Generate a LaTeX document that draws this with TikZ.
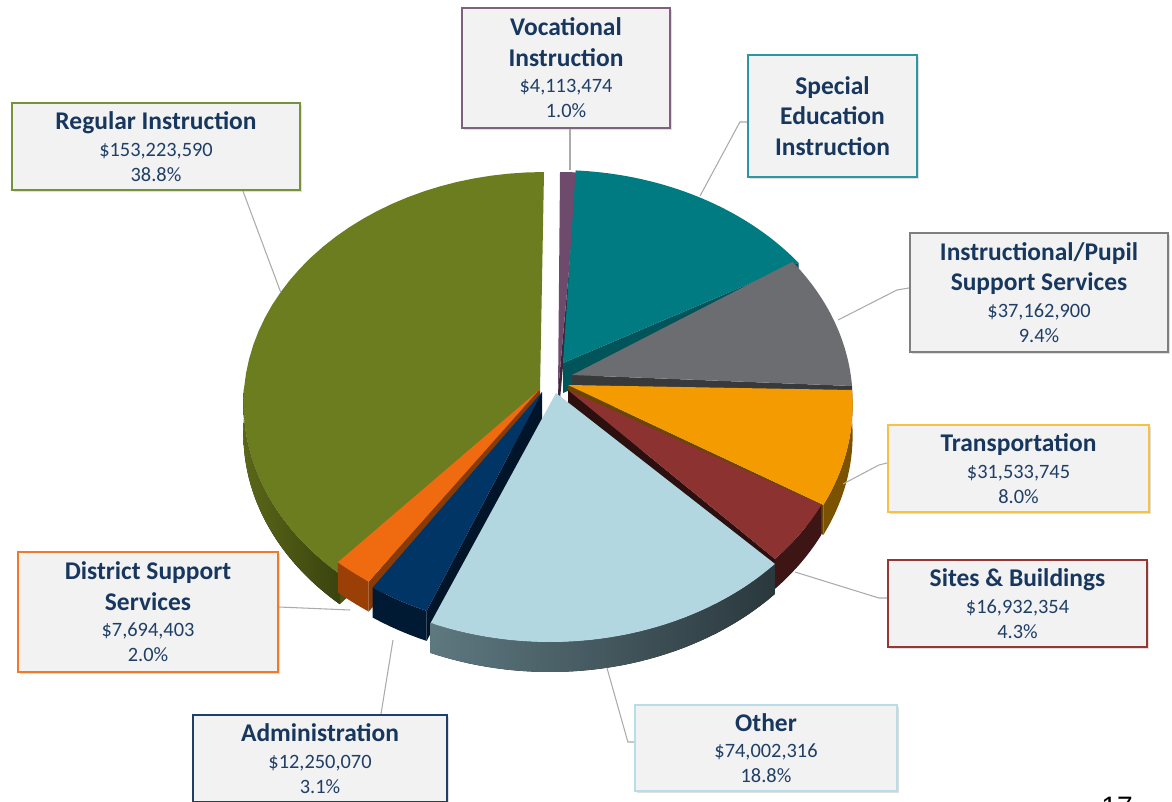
\documentclass[tikz,border=0pt]{standalone}
\usepackage{fontspec}
\setmainfont{Carlito}
\newfontfamily\pagefont{Liberation Sans}
\usetikzlibrary{shadows}

\definecolor{titleblue}{HTML}{17375E}
\definecolor{valueblue}{HTML}{1F3F66}
\definecolor{boxfill}{HTML}{F2F2F3}
\definecolor{leadgray}{HTML}{ABABAB}

\definecolor{regtop}{HTML}{6B7D1E}
\definecolor{regsideA}{HTML}{5A6718}
\definecolor{regsideB}{HTML}{3A430E}
\definecolor{regcut}{HTML}{485214}
\definecolor{voctop}{HTML}{6E4A6C}
\definecolor{voccut}{HTML}{3B2538}
\definecolor{spetop}{HTML}{007B82}
\definecolor{specut}{HTML}{00545A}
\definecolor{instop}{HTML}{6C6D70}
\definecolor{inscut}{HTML}{38393B}
\definecolor{tratop}{HTML}{F39B00}
\definecolor{traside}{HTML}{7A5200}
\definecolor{tracut}{HTML}{6A4700}
\definecolor{sittop}{HTML}{8C3332}
\definecolor{sitside}{HTML}{3D1515}
\definecolor{sitcut}{HTML}{2C0F0F}
\definecolor{othtop}{HTML}{B3D7E1}
\definecolor{othsideA}{HTML}{5E7880}
\definecolor{othsideB}{HTML}{2A383D}
\definecolor{admtop}{HTML}{003565}
\definecolor{admside}{HTML}{001A33}
\definecolor{admcut}{HTML}{00152A}
\definecolor{distop}{HTML}{F06A10}
\definecolor{disside}{HTML}{9A4006}
\definecolor{discut}{HTML}{8A3A05}

\definecolor{regline}{HTML}{76923C}
\definecolor{vocline}{HTML}{80607F}
\definecolor{speline}{HTML}{2E96A0}
\definecolor{insline}{HTML}{7F7F7F}
\definecolor{traline}{HTML}{F6C243}
\definecolor{sitline}{HTML}{953735}
\definecolor{disline}{HTML}{F07A2A}
\definecolor{admline}{HTML}{1F3F6A}
\definecolor{othline}{HTML}{B9DDE8}

\newcommand{\valfont}{\fontsize{11.6}{14.2}\selectfont}
\newcommand{\ttlfont}{\fontsize{14.5}{17.6}\selectfont\bfseries\color{titleblue}}

\begin{document}
\begin{tikzpicture}[x=0.02cm,y=-0.02cm,samples=40,
  declare function={px(\t)=552+300*cos(\t)/(1+0.0647*sin(\t));
                    py(\t)=393-231*sin(\t)/(1+0.0647*sin(\t));},
  callout/.style={draw,line width=1.3pt,fill=boxfill,align=center,
                  text=valueblue,font=\valfont,inner sep=0pt,
                  drop shadow={opacity=0.25,shadow xshift=1.2pt,shadow yshift=-1.2pt}},
  lead/.style={draw=leadgray,line width=0.6pt}]
\path[use as bounding box,fill=white] (0,0) rectangle (1172,801);

\coordinate (vocC) at (558,392);
\begin{scope}[shift={(8,-4)}]
\fill[voccut] (vocC) -- ({px(86.4)},{py(86.4)}) -- ({px(86.4)},{py(86.4)+30}) -- ([yshift=-0.6cm]vocC) -- cycle;
\fill[voctop] (vocC) -- plot[domain=86.4:90] ({px(\x)},{py(\x)}) -- cycle;
\end{scope}

\coordinate (speC) at (563,363);
\begin{scope}[shift={(6,-6)}]
\fill[specut] (speC) -- ({px(33.84)},{py(33.84)}) -- ({px(33.84)},{py(33.84)+30}) -- ([yshift=-0.6cm]speC) -- cycle;
\fill[spetop] (speC) -- plot[domain=33.84:86.4] ({px(\x)},{py(\x)}) -- cycle;
\end{scope}

\coordinate (insC) at (572,375);
\begin{scope}[shift={(0,-7)}]
\fill[inscut] (insC) -- ({px(0)},{py(0)}) -- ({px(0)},{py(0)+30}) -- ([yshift=-0.6cm]insC) -- cycle;
\fill[instop] (insC) -- plot[domain=0:33.84] ({px(\x)},{py(\x)}) -- cycle;
\end{scope}

\coordinate (regC) at (540,390);
\begin{scope}[shift={(-8,-4)}]
\fill[left color=regsideA,right color=regsideB] plot[domain=180:229.68] ({px(\x)},{py(\x)}) -- plot[domain=229.68:180] ({px(\x)},{py(\x)+30}) -- cycle;
\fill[regcut] (regC) -- ({px(229.68)},{py(229.68)}) -- ({px(229.68)},{py(229.68)+30}) -- ([yshift=-0.6cm]regC) -- cycle;
\fill[regtop] (regC) -- plot[domain=90:229.68] ({px(\x)},{py(\x)}) -- cycle;
\end{scope}

\coordinate (traC) at (568,385);
\begin{scope}[shift={(0,-3)}]
\fill[traside] plot[domain=-28.8:0] ({px(\x)},{py(\x)}) -- plot[domain=0:-28.8] ({px(\x)},{py(\x)+30}) -- cycle;
\fill[tracut] (traC) -- ({px(-28.8)},{py(-28.8)}) -- ({px(-28.8)},{py(-28.8)+30}) -- ([yshift=-0.6cm]traC) -- cycle;
\fill[tratop] (traC) -- plot[domain=-28.8:0] ({px(\x)},{py(\x)}) -- cycle;
\end{scope}

\coordinate (sitC) at (568,390);
\begin{scope}[shift={(-2,-3)}]
\fill[sitside] plot[domain=-44.28:-28.8] ({px(\x)},{py(\x)}) -- plot[domain=-28.8:-44.28] ({px(\x)},{py(\x)+30}) -- cycle;
\fill[sitcut] (sitC) -- ({px(-44.28)},{py(-44.28)}) -- ({px(-44.28)},{py(-44.28)+30}) -- ([yshift=-0.6cm]sitC) -- cycle;
\fill[sittop] (sitC) -- plot[domain=-44.28:-28.8] ({px(\x)},{py(\x)}) -- cycle;
\end{scope}

\coordinate (disC) at (539,390);
\begin{scope}[shift={(-10,-16)}]
\fill[disside] plot[domain=-130.32:-123.12] ({px(\x)},{py(\x)}) -- plot[domain=-123.12:-130.32] ({px(\x)},{py(\x)+30}) -- cycle;
\fill[discut] (disC) -- ({px(-123.12)},{py(-123.12)}) -- ({px(-123.12)},{py(-123.12)+30}) -- ([yshift=-0.6cm]disC) -- cycle;
\fill[distop] (disC) -- plot[domain=-130.32:-123.12] ({px(\x)},{py(\x)}) -- cycle;
\end{scope}

\coordinate (admC) at (542,392);
\begin{scope}[shift={(-6,-10)}]
\fill[admside] plot[domain=-123.12:-111.96] ({px(\x)},{py(\x)}) -- plot[domain=-111.96:-123.12] ({px(\x)},{py(\x)+30}) -- cycle;
\fill[admcut] (admC) -- ({px(-111.96)},{py(-111.96)}) -- ({px(-111.96)},{py(-111.96)+30}) -- ([yshift=-0.6cm]admC) -- cycle;
\fill[admtop] (admC) -- plot[domain=-123.12:-111.96] ({px(\x)},{py(\x)}) -- cycle;
\end{scope}

\coordinate (othC) at (556,393);
\begin{scope}[shift={(-2,2)}]
\fill[left color=othsideA,right color=othsideB] plot[domain=-111.96:-44.28] ({px(\x)},{py(\x)}) -- plot[domain=-44.28:-111.96] ({px(\x)},{py(\x)+30}) -- cycle;
\fill[othtop] (othC) -- plot[domain=-111.96:-44.28] ({px(\x)},{py(\x)}) -- cycle;
\end{scope}

\node[callout,draw=regline,minimum width=5.76cm,minimum height=1.74cm] (regBox) at (156,146.5)
  {{\ttlfont Regular Instruction}\\[1pt]\$153,223,590\\38.8\%};
\node[callout,draw=vocline,minimum width=4.16cm,minimum height=2.4cm] (vocBox) at (566,68)
  {{\ttlfont Vocational}\\[3pt]{\ttlfont Instruction}\\[1pt]\$4,113,474\\1.0\%};
\node[callout,draw=speline,minimum width=3.38cm,minimum height=2.44cm] (speBox) at (832.5,116)
  {{\ttlfont Special}\\[3pt]{\ttlfont Education}\\[3pt]{\ttlfont Instruction}};
\node[callout,draw=insline,minimum width=5.16cm,minimum height=2.38cm] (insBox) at (1039,292.5)
  {{\ttlfont Instructional/Pupil}\\[3pt]{\ttlfont Support Services}\\[1pt]\$37,162,900\\9.4\%};
\node[callout,draw=traline,minimum width=5.22cm,minimum height=1.74cm] (traBox) at (1018.5,468.5)
  {{\ttlfont Transportation}\\[1pt]\$31,533,745\\8.0\%};
\node[callout,draw=sitline,minimum width=5.18cm,minimum height=1.74cm] (sitBox) at (1017.5,603.5)
  {{\ttlfont Sites \& Buildings}\\[1pt]\$16,932,354\\4.3\%};
\node[callout,draw=disline,minimum width=5.2cm,minimum height=2.4cm] (disBox) at (148,612)
  {{\ttlfont District Support}\\[3pt]{\ttlfont Services}\\[1pt]\$7,694,403\\2.0\%};
\node[callout,draw=admline,minimum width=5.08cm,minimum height=1.74cm] (admBox) at (320,758.5)
  {{\ttlfont Administration}\\[1pt]\$12,250,070\\3.1\%};
\node[callout,draw=othline,minimum width=5.24cm,minimum height=1.72cm] (othBox) at (766,748)
  {{\ttlfont Other}\\[1pt]\$74,002,316\\18.8\%};

\coordinate (regTip) at (281,293);
\coordinate (vocTip) at (570,170);
\coordinate (speTip) at (700,196);
\coordinate (insTip) at (838,320);
\coordinate (traTip) at (843,484);
\coordinate (sitTip) at (795,572);
\coordinate (othTip) at (607,668);
\coordinate (admTip) at (393,640);
\coordinate (disTip) at (350,610);
\draw[lead] (regBox.south -| 243,0) -- (regTip);
\draw[lead] (vocBox.south -| 570,0) -- (vocTip);
\draw[lead] (speBox.west |- 0,122) -- ++(-7,0) -- (speTip);
\draw[lead] (insBox.west |- 0,288) -- ++(-12,2) -- (insTip);
\draw[lead] (traBox.west |- 0,463) -- ++(-8,2) -- (traTip);
\draw[lead] (sitBox.west |- 0,598) -- ++(-8,0) -- (sitTip);
\draw[lead] (othBox.west |- 0,742) -- ++(-6,0) -- (othTip);
\draw[lead] (admBox.north -| 381,0) -- (admTip);
\draw[lead] (disBox.east |- 0,607) -- (disTip);

\node[font=\pagefont\fontsize{16}{18}\selectfont,anchor=north,inner sep=0pt] (pageNum) at (1117,797) {17};
\end{tikzpicture}
\end{document}
